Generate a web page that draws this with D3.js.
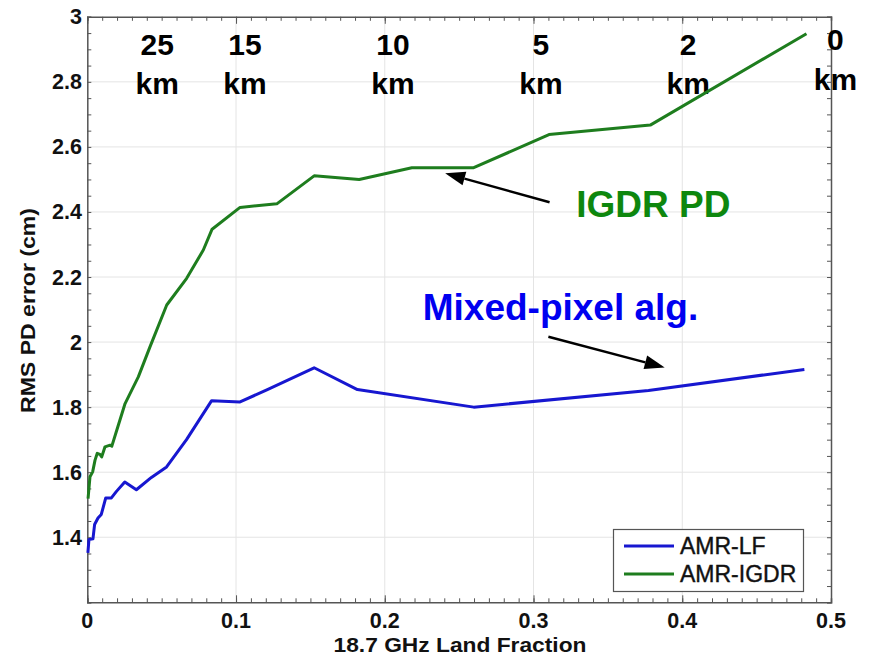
<!DOCTYPE html>
<html><head><meta charset="utf-8">
<script src="https://cdn.jsdelivr.net/npm/d3@7"></script>
<style>body{margin:0;background:#fff}svg{display:block}text{font-family:"Liberation Sans",Arial,sans-serif}</style>
</head><body><div id="chart"></div>
<script>
// ---- data ----
const lfX = [0.0004,0.0011,0.0038,0.0049,0.0072,0.0094,0.0124,0.0162,0.0196,0.0252,0.033,0.0431,0.0533,0.0667,0.0836,0.1027,0.1207,0.1525,0.1816,0.2598,0.3773,0.4821];
const lfY = [1.352,1.393,1.395,1.439,1.459,1.470,1.521,1.521,1.541,1.570,1.546,1.584,1.616,1.700,1.820,1.816,1.853,1.921,1.854,1.800,1.851,1.916];
const igdrX = [0.0005,0.0018,0.0036,0.0052,0.0067,0.0085,0.0097,0.0119,0.0153,0.0165,0.0198,0.0254,0.0343,0.0422,0.0534,0.0668,0.078,0.0839,0.1027,0.1274,0.1525,0.1828,0.2182,0.2598,0.3104,0.3785,0.4835];
const igdrY = [1.519,1.586,1.601,1.637,1.658,1.655,1.647,1.678,1.683,1.680,1.729,1.811,1.893,1.986,2.114,2.196,2.283,2.347,2.414,2.425,2.511,2.500,2.536,2.536,2.638,2.667,2.948];
const xTicks = [0,0.1,0.2,0.3,0.4,0.5];
const xTickLabels = ["0","0.1","0.2","0.3","0.4","0.5"];
const yTicks = [1.4,1.6,1.8,2,2.2,2.4,2.6,2.8,3];
const yTickLabels = ["1.4","1.6","1.8","2","2.2","2.4","2.6","2.8","3"];
const kmLabels = ["25","15","10","5","2","0"];
const kmPos = [0.047,0.106,0.2055,0.305,0.404,0.503];
const seriesNames = ["AMR-LF","AMR-IGDR"];
const xLabel = "18.7 GHz Land Fraction";
const yLabel = "RMS PD error (cm)";

// ---- layout ----
const W = 869, H = 657;
const x = d3.scaleLinear().domain([0,0.5]).range([87.3,831]);
const y = d3.scaleLinear().domain([1.2,3]).range([602.3,16.8]);
const blue = "#1717d0", green = "#1e7d1e";

const svg = d3.select("#chart").append("svg").attr("width",W).attr("height",H);

// grid
const grid = svg.append("g").attr("stroke","#e4e4e4").attr("stroke-width",1);
grid.selectAll("line.gx").data(xTicks.slice(1,-1)).join("line").attr("class","gx")
  .attr("x1",d=>x(d)).attr("x2",d=>x(d)).attr("y1",y(1.2)).attr("y2",y(3));
grid.selectAll("line.gy").data(yTicks.slice(0,-1)).join("line").attr("class","gy")
  .attr("x1",x(0)).attr("x2",x(0.5)).attr("y1",d=>y(d)).attr("y2",d=>y(d));

// axes with inward ticks
const axCol = "#555";
const minorX = d3.range(0,0.5001,0.01);
const minorY = d3.range(1.2,3.0001,0.05);
const axB = svg.append("g").attr("transform",`translate(0,${y(1.2)})`)
  .call(d3.axisBottom(x).tickValues(minorX).tickSize(-4).tickFormat(""));
const axT = svg.append("g").attr("transform",`translate(0,${y(3)})`)
  .call(d3.axisTop(x).tickValues(minorX).tickSize(-4).tickFormat(""));
const axL = svg.append("g").attr("transform",`translate(${x(0)},0)`)
  .call(d3.axisLeft(y).tickValues(minorY).tickSize(-4).tickFormat(""));
const axR = svg.append("g").attr("transform",`translate(${x(0.5)},0)`)
  .call(d3.axisRight(y).tickValues(minorY).tickSize(-4).tickFormat(""));
[axB,axT,axL,axR].forEach(g=>{
  g.select(".domain").attr("stroke",axCol).attr("stroke-width",1.5);
  g.selectAll(".tick line").attr("stroke",axCol).attr("stroke-width",1);
});
svg.append("g").attr("transform",`translate(0,${y(1.2)})`)
  .call(d3.axisBottom(x).tickValues(xTicks).tickSize(-7).tickFormat(""))
  .call(g=>{g.select(".domain").remove();g.selectAll("line").attr("stroke",axCol);});
svg.append("g").attr("transform",`translate(0,${y(3)})`)
  .call(d3.axisTop(x).tickValues(xTicks).tickSize(-7).tickFormat(""))
  .call(g=>{g.select(".domain").remove();g.selectAll("line").attr("stroke",axCol);});

// tick labels
svg.append("g").selectAll("text").data(xTicks).join("text")
  .attr("x",d=>x(d)).attr("y",628).attr("text-anchor","middle")
  .attr("font-size",21.5).attr("font-weight","bold").attr("fill","#111")
  .text((d,i)=>xTickLabels[i]);
svg.append("g").selectAll("text").data(yTicks).join("text")
  .attr("x",82).attr("y",d=>y(d)+7.5).attr("text-anchor","end")
  .attr("font-size",21.5).attr("font-weight","bold").attr("fill","#111")
  .text((d,i)=>yTickLabels[i]);

// axis labels
svg.append("text").attr("x",460).attr("y",652).attr("text-anchor","middle")
  .attr("font-size",21).attr("font-weight","bold").attr("fill","#111")
  .attr("textLength",253).attr("lengthAdjust","spacingAndGlyphs").text(xLabel);
svg.append("text").attr("transform","translate(35,310.5) rotate(-90)").attr("text-anchor","middle")
  .attr("font-size",21).attr("font-weight","bold").attr("fill","#111")
  .attr("textLength",205).attr("lengthAdjust","spacingAndGlyphs").text(yLabel);

// km labels
const km = svg.append("g").attr("font-size",30).attr("font-weight","bold").attr("fill","#000").attr("text-anchor","middle");
km.selectAll("text.n").data(kmLabels).join("text").attr("class","n")
  .attr("x",(d,i)=>x(kmPos[i])).attr("y",(d,i)=>i===5?50:55).text(d=>d);
km.selectAll("text.k").data(kmLabels).join("text").attr("class","k")
  .attr("x",(d,i)=>x(kmPos[i])).attr("y",(d,i)=>i===5?90:94).text("km");

// lines
const line = d3.line().x(d=>x(d[0])).y(d=>y(d[1]));
svg.append("path").datum(lfX.map((v,i)=>[v,lfY[i]])).attr("d",line)
  .attr("fill","none").attr("stroke",blue).attr("stroke-width",3).attr("stroke-linejoin","round");
svg.append("path").datum(igdrX.map((v,i)=>[v,igdrY[i]])).attr("d",line)
  .attr("fill","none").attr("stroke",green).attr("stroke-width",3).attr("stroke-linejoin","round");

// annotations
svg.append("text").attr("x",x(0.3287)).attr("y",y(2.385)).attr("font-size",37).attr("font-weight","bold")
  .attr("fill","#0e870e").text("IGDR PD");
svg.append("text").attr("x",x(0.2255)).attr("y",y(2.068)).attr("font-size",37).attr("font-weight","bold")
  .attr("fill","#0000f0").text("Mixed-pixel alg.");
function arrow(x1,y1,x2,y2){
  const ax1=x(x1),ay1=y(y1),ax2=x(x2),ay2=y(y2);
  const ang=Math.atan2(ay2-ay1,ax2-ax1), L=20, Wd=7;
  const bx=ax2-L*Math.cos(ang), by=ay2-L*Math.sin(ang);
  svg.append("line").attr("x1",ax1).attr("y1",ay1).attr("x2",bx).attr("y2",by)
    .attr("stroke","#000").attr("stroke-width",2.5);
  const p=[[ax2,ay2],[bx+Wd*Math.sin(ang),by-Wd*Math.cos(ang)],[bx-Wd*Math.sin(ang),by+Wd*Math.cos(ang)]];
  svg.append("path").attr("d","M"+p.map(q=>q.join(",")).join("L")+"Z").attr("fill","#000");
}
arrow(0.3108,2.430,0.2406,2.519);
arrow(0.310,2.0163,0.3882,1.922);

// legend
const lg = svg.append("g");
lg.append("rect").attr("x",613.5).attr("y",529.5).attr("width",190).attr("height",62)
  .attr("fill","#fff").attr("stroke","#555").attr("stroke-width",1.2);
[blue,green].forEach((c,i)=>{
  const yy = 546 + i*28;
  lg.append("line").attr("x1",624).attr("x2",674).attr("y1",yy).attr("y2",yy).attr("stroke",c).attr("stroke-width",3);
  lg.append("text").attr("x",680).attr("y",yy+8).attr("font-size",23).attr("fill","#111")
    .attr("stroke","#111").attr("stroke-width",0.4).text(seriesNames[i]);
});
</script></body></html>
